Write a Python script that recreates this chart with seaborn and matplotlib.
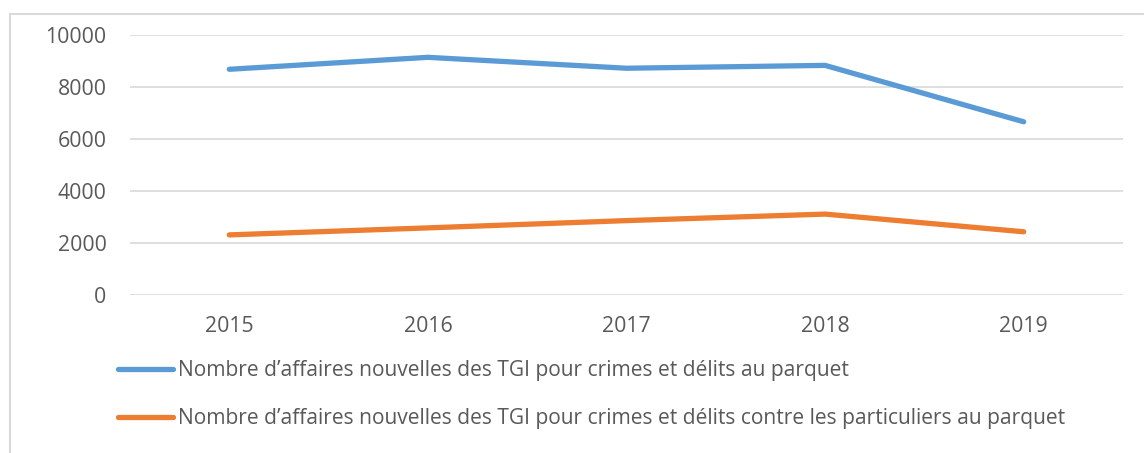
import matplotlib
matplotlib.use("Agg")
import matplotlib.pyplot as plt
from matplotlib.patches import Rectangle
import seaborn as sns
import pandas as pd

# Data
years = ["2015", "2016", "2017", "2018", "2019"]
affaires_total = [8670, 9130, 8710, 8820, 6650]
affaires_particuliers = [2300, 2570, 2850, 3100, 2420]
label_total = "Nombre d’affaires nouvelles des TGI pour crimes et délits au parquet"
label_part = "Nombre d’affaires nouvelles des TGI pour crimes et délits contre les particuliers au parquet"

df = pd.DataFrame({
    "annee": years * 2,
    "valeur": affaires_total + affaires_particuliers,
    "serie": [label_total] * 5 + [label_part] * 5,
})

sns.set_theme(style="white")
plt.rcParams["font.family"] = ["Open Sans", "DejaVu Sans"]
text_col = "#595959"
grid_col = "#d9d9d9"

W, H = 1144, 453
fig = plt.figure(figsize=(W / 100, H / 100), dpi=100)
ax = fig.add_axes([130 / W, 1 - 294.7 / H, (1123 - 130) / W, (294.7 - 34.7) / H])

sns.lineplot(data=df, x="annee", y="valeur", hue="serie", ax=ax,
             palette={label_total: "#5b9bd5", label_part: "#ed7d31"},
             linewidth=3.8, solid_capstyle="round", sort=False)

ax.set_ylim(0, 10000)
ax.set_xlim(-0.5, 4.5)
ax.set_yticks(range(0, 10001, 2000))
ax.yaxis.grid(True, color=grid_col, linewidth=1.2)
ax.set_axisbelow(True)
for s in ax.spines.values():
    s.set_visible(False)
ax.set_xlabel("")
ax.set_ylabel("")
ax.tick_params(axis="both", length=0, labelsize=15.3, labelcolor=text_col)
ax.tick_params(axis="y", pad=17)
ax.tick_params(axis="x", pad=15)

handles, labels = ax.get_legend_handles_labels()
ax.get_legend().remove()
leg = fig.legend(handles, labels, loc="upper left", bbox_to_anchor=(99 / W, 1 - 341 / H),
                 frameon=False, fontsize=15.1, handlelength=2.65, handletextpad=0.2,
                 labelspacing=1.3, labelcolor=text_col)
for line in leg.get_lines():
    line.set_linewidth(3.8)
    line.set_solid_capstyle("round")

# outer chart frame
fig.patches.append(Rectangle((10 / W, -0.1), 1.2, 1 - 14 / H + 0.1, transform=fig.transFigure,
                             fill=False, edgecolor=grid_col, linewidth=1.5))

fig.savefig("out.png", dpi=100)
